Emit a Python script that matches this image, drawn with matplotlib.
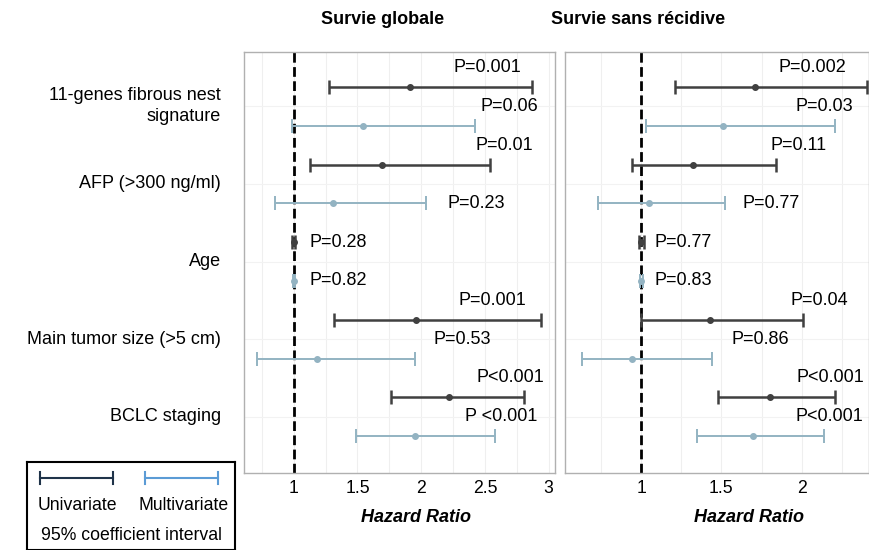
import numpy as np
import matplotlib
matplotlib.use('Agg')
import matplotlib.pyplot as plt
from matplotlib.lines import Line2D

plt.rcParams['font.family'] = ['Liberation Sans', 'DejaVu Sans']

# Variables (one per pair of rows: univariate then multivariate)
variables = ['11-genes fibrous nest\nsignature', 'AFP (>300 ng/ml)', 'Age',
             'Main tumor size (>5 cm)', 'BCLC staging']

# Survie globale: hazard ratio, lower / upper 95% CI, rows alternate uni / multi
os_hr = [1.91, 1.54, 1.69, 1.31, 1.00, 1.00, 1.96, 1.18, 2.22, 1.95]
os_lo = [1.28, 0.99, 1.13, 0.85, 0.99, 0.995, 1.32, 0.71, 1.76, 1.49]
os_hi = [2.87, 2.42, 2.54, 2.04, 1.01, 1.01, 2.94, 1.95, 2.81, 2.58]
os_p = ['P=0.001', 'P=0.06', 'P=0.01', 'P=0.23', 'P=0.28', 'P=0.82',
        'P=0.001', 'P=0.53', 'P<0.001', 'P <0.001']

# Survie sans recidive
rfs_hr = [1.71, 1.51, 1.32, 1.05, 1.00, 1.00, 1.43, 0.94, 1.80, 1.70]
rfs_lo = [1.21, 1.03, 0.94, 0.73, 0.985, 0.995, 1.00, 0.63, 1.48, 1.35]
rfs_hi = [2.41, 2.21, 1.84, 1.52, 1.015, 1.01, 2.01, 1.44, 2.21, 2.14]
rfs_p = ['P=0.002', 'P=0.03', 'P=0.11', 'P=0.77', 'P=0.77', 'P=0.83',
         'P=0.04', 'P=0.86', 'P<0.001', 'P<0.001']

# where the p-value labels sit (x centre in HR units, y shift in rows)
os_px = [2.52, 2.69, 2.65, 2.43, 1.35, 1.35, 2.56, 2.32, 2.70, 2.63]
rfs_px = [2.07, 2.14, 1.98, 1.81, 1.26, 1.26, 2.11, 1.74, 2.18, 2.17]
p_dy = [-0.5, -0.5, -0.5, 0, 0, 0, -0.5, -0.5, -0.5, -0.5]

UNI = '#404040'
MULTI = '#93b3c2'


def forest(ax, hr, lo, hi, ptxt, px, xlim, xticks):
    rows = np.arange(len(hr))
    ax.set_xlim(*xlim)
    ax.set_ylim(9.95, -0.9)
    for v in np.arange(0.5, 3.1, 0.25):
        ax.axvline(v, color='#efefef', lw=0.8, zorder=0)
    for c in range(len(variables)):
        ax.axhline(2 * c + 0.5, color='#f2f2f2', lw=0.8, zorder=0)
    ax.axvline(1, color='black', lw=2, ls=(0, (3.5, 1.6)), zorder=1)
    for i in rows:
        col = UNI if i % 2 == 0 else MULTI
        lw = 1.8 if i % 2 == 0 else 1.4
        ax.errorbar(hr[i], i, xerr=[[hr[i] - lo[i]], [hi[i] - hr[i]]],
                    fmt='o', ms=4, color=col, ecolor=col, elinewidth=lw,
                    capsize=5, capthick=lw, zorder=3)
        ax.text(px[i], i + p_dy[i], ptxt[i], ha='center', va='center',
                fontsize=13)
    ax.set_xticks(xticks)
    ax.set_xticklabels([('%g' % t) for t in xticks], fontsize=12.7)
    ax.tick_params(axis='x', length=0, pad=5)
    ax.set_yticks([])
    for s in ax.spines.values():
        s.set_color('#b0b0b0')
        s.set_linewidth(1)


fig = plt.figure(figsize=(8.7, 5.5), dpi=100)
W, H = 870.0, 550.0

ax1 = fig.add_axes([244 / W, 1 - 473 / H, 311 / W, 421 / H])
ax2 = fig.add_axes([565 / W, 1 - 473 / H, 304 / W, 421 / H])

forest(ax1, os_hr, os_lo, os_hi, os_p, os_px, (0.61, 3.05), [1, 1.5, 2, 2.5, 3])
forest(ax2, rfs_hr, rfs_lo, rfs_hi, rfs_p, rfs_px, (0.525, 2.42), [1, 1.5, 2])

# row labels, centred between the pair of rows
for c, name in enumerate(variables):
    ax1.text(-0.075, 2 * c + 0.5, name, transform=ax1.get_yaxis_transform(),
             ha='right', va='center', fontsize=13, multialignment='right',
             linespacing=1.3)

fig.text(383 / W, 1 - 20 / H, 'Survie globale', ha='center', va='center',
         fontsize=13, fontweight='bold')
fig.text(638 / W, 1 - 20 / H, 'Survie sans récidive', ha='center', va='center',
         fontsize=13, fontweight='bold')
fig.text(416 / W, 1 - 518 / H, 'Hazard Ratio', ha='center', va='center',
         fontsize=13, fontweight='bold', style='italic')
fig.text(749 / W, 1 - 518 / H, 'Hazard Ratio', ha='center', va='center',
         fontsize=13, fontweight='bold', style='italic')

# legend box
lg = fig.add_axes([27 / W, 0, 208 / W, 88 / H])
lg.set_xlim(0, 1)
lg.set_ylim(0, 1)
lg.set_xticks([])
lg.set_yticks([])
for s in lg.spines.values():
    s.set_color('black')
    s.set_linewidth(1.5)
for x0, x1, col in [(0.0625, 0.413, '#1f3349'), (0.567, 0.918, '#5b9bd5')]:
    lg.add_line(Line2D([x0, x1], [0.818, 0.818], color=col, lw=1.5))
    for xx in (x0, x1):
        lg.add_line(Line2D([xx, xx], [0.75, 0.886], color=col, lw=1.5))
lg.text(0.24, 0.51, 'Univariate', ha='center', va='center', fontsize=12.7)
lg.text(0.755, 0.51, 'Multivariate', ha='center', va='center', fontsize=12.7)
lg.text(0.5, 0.17, '95% coefficient interval', ha='center', va='center',
        fontsize=12.7)

plt.savefig('out.png', dpi=100)
plt.close()
